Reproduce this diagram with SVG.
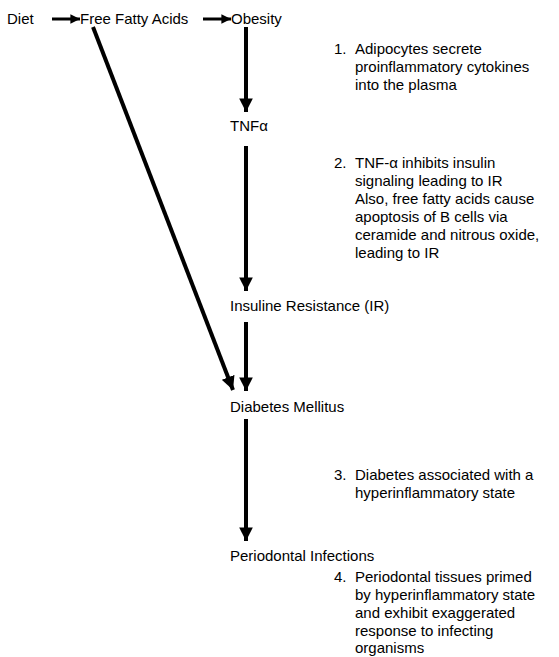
<svg xmlns="http://www.w3.org/2000/svg" width="559" height="657" viewBox="0 0 559 657">
<style>
text{font-family:"Liberation Sans",Arial,sans-serif;font-size:15px;fill:#000}
.c line{stroke:#000;stroke-width:4}
</style>
<defs>
<marker id="ah" viewBox="0 0 10 10" refX="10" refY="5" markerWidth="3.4" markerHeight="3.4" orient="auto" markerUnits="strokeWidth">
<path d="M0,0L10,5L0,10Z" fill="#000"/>
</marker>
<marker id="ahs" viewBox="0 0 10 10" refX="10" refY="5" markerWidth="3.2" markerHeight="3.2" orient="auto" markerUnits="strokeWidth">
<path d="M0,0L10,5L0,10Z" fill="#000"/>
</marker>
</defs>
<rect width="559" height="657" fill="#fff"/>
<g class="c" id="connectors">
<line x1="52" y1="19" x2="80" y2="19" marker-end="url(#ahs)" style="stroke-width:3"/>
<line x1="203" y1="19" x2="231" y2="19" marker-end="url(#ahs)" style="stroke-width:3"/>
<line x1="246" y1="27" x2="246" y2="112" marker-end="url(#ah)"/>
<line x1="246" y1="146" x2="246" y2="291" marker-end="url(#ah)"/>
<line x1="246" y1="322" x2="246" y2="391" marker-end="url(#ah)"/>
<line x1="93" y1="27" x2="233" y2="390" marker-end="url(#ah)"/>
<line x1="246" y1="419" x2="246" y2="541" marker-end="url(#ah)"/>
</g>
<g id="diet"><text x="7" y="24">Diet</text></g>
<g id="ffa"><text x="80" y="24">Free Fatty Acids</text></g>
<g id="obesity"><text x="231" y="24">Obesity</text></g>
<g id="tnf"><text x="230" y="131">TNFα</text></g>
<g id="ir"><text x="230" y="311">Insuline Resistance (IR)</text></g>
<g id="dm"><text x="230" y="412">Diabetes Mellitus</text></g>
<g id="pi"><text x="230" y="561">Periodontal Infections</text></g>
<g id="note1"><text x="334" y="54">1.</text><text x="355" y="54">Adipocytes secrete</text><text x="355" y="72">proinflammatory cytokines</text><text x="355" y="90">into the plasma</text></g>
<g id="note2"><text x="334" y="168">2.</text><text x="355" y="168">TNF-α inhibits insulin</text><text x="355" y="186">signaling leading to IR</text><text x="355" y="204">Also, free fatty acids cause</text><text x="355" y="222">apoptosis of B cells via</text><text x="355" y="240">ceramide and nitrous oxide,</text><text x="355" y="258">leading to IR</text></g>
<g id="note3"><text x="334" y="480">3.</text><text x="355" y="480">Diabetes associated with a</text><text x="355" y="498">hyperinflammatory state</text></g>
<g id="note4"><text x="334" y="582">4.</text><text x="355" y="582">Periodontal tissues primed</text><text x="355" y="600">by hyperinflammatory state</text><text x="355" y="618">and exhibit exaggerated</text><text x="355" y="636">response to infecting</text><text x="355" y="653">organisms</text></g>
</svg>
